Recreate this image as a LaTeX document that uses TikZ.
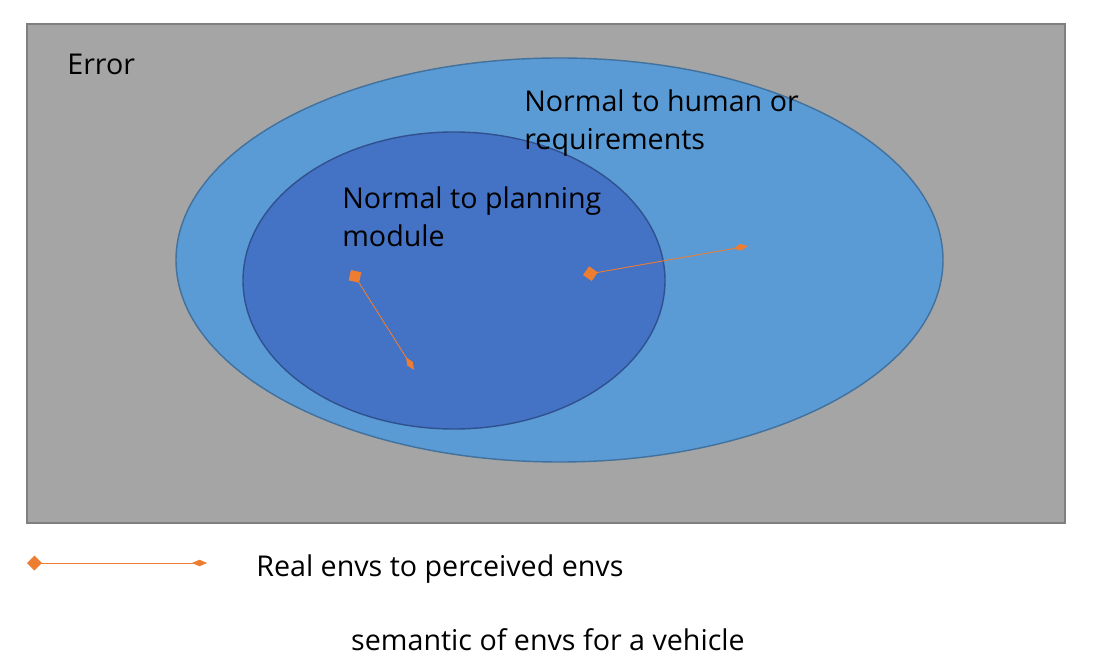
\documentclass[tikz,border=0pt]{standalone}
\usepackage{fontspec}
\setmainfont{Open Sans}
\usetikzlibrary{arrows.meta}

\definecolor{errgray}{HTML}{A5A5A5}
\definecolor{errline}{HTML}{7F7F7F}
\definecolor{humanblue}{HTML}{5B9BD5}
\definecolor{humanline}{HTML}{41719C}
\definecolor{planblue}{HTML}{4472C4}
\definecolor{planline}{HTML}{2F528F}
\definecolor{envorange}{HTML}{ED7D31}

\tikzset{
  lbl/.style={font=\fontsize{16.3}{21.6}\selectfont, text=black, inner sep=0pt},
  envmap/.style={envorange, line width=0.5pt,
    {Turned Square[length=0.3cm,width=0.3cm]}-{Turned Square[length=0.3cm,width=0.13cm]}}
}

\begin{document}
\begin{tikzpicture}[x=0.02cm,y=-0.02cm]
\useasboundingbox (0,0) rectangle (1095,668);

% Error region
\draw[fill=errgray, draw=errline, line width=0.8pt] (27,24) rectangle (1065,523);
\node[lbl, anchor=base west] (error) at (67,75) {Error};

% Normal to human or requirements
\draw[fill=humanblue, draw=humanline, line width=0.8pt] (559.5,260) ellipse [x radius=383.5, y radius=202];

% Normal to planning module
\draw[fill=planblue, draw=planline, line width=0.8pt] (454,280.5) ellipse [x radius=211, y radius=148.5];
\node[lbl, anchor=north west, align=left] (plan) at (342,186) {Normal to planning\\module};

% label of the outer region, on top of both ellipses
\node[lbl, anchor=north west, align=left] (human) at (524,89) {Normal to human or\\requirements};

% Real envs to perceived envs
\coordinate (realA) at (351,270);
\coordinate (percA) at (414,370);
\coordinate (realB) at (583,275);
\coordinate (percB) at (748,246);
\draw[envmap] (realA) -- (percA);
\draw[envmap] (realB) -- (percB);

% Legend
\coordinate (legA) at (27,563);
\coordinate (legB) at (207,563);
\draw[envmap] (legA) -- (legB);
\node[lbl, anchor=base west] (legend) at (256,576) {Real envs to perceived envs};

% Caption
\node[lbl, anchor=base] (caption) at (548,650) {semantic of envs for a vehicle};

\end{tikzpicture}
\end{document}
